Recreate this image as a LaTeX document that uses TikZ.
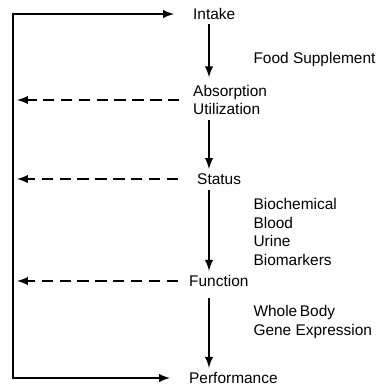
\documentclass[tikz,border=0pt]{standalone}
\usepackage{fontspec}
\setmainfont{Liberation Sans}
\usepackage{tikz}
\usetikzlibrary{
	arrows,
}

\begin{document}
\begin{tikzpicture}[x=0.0264cm, y=-0.0264cm, thick,
	stage/.style={anchor=west, inner sep=2pt, align=left, font=\fontsize{11.6}{12.8}\selectfont},
	note/.style={anchor=west, inner sep=0pt, align=left, font=\fontsize{11.6}{14}\selectfont},
	flow/.style={-latex, line width=1.8pt},
	feedback/.style={-latex, line width=1.8pt, dash pattern=on 8.6pt off 4.8pt}]
\useasboundingbox (0,0) rectangle (380,388);

% left rail and the column of down arrows
\coordinate (rail) at (13,0);
\coordinate (col) at (209,0);

% stages
\node[stage] (intake) at (190,14) {Intake};
\node[stage] (absorb) at (190,100) {Absorption\\Utilization};
\node[stage] (status) at (194,179) {Status};
\node[stage] (function) at (186,281) {Function};
\node[stage] (perf) at (186,378) {Performance};

% side notes
\node[note] (food) at (253,60) {Food Supplement};
\node[note] (markers) at (253,232) {Biochemical\\Blood\\Urine\\Biomarkers};
\node[note, font=\fontsize{11.6}{15}\selectfont] (body) at (253,322) {Whole\,Body\\Gene Expression};

% down arrows
\draw[flow] ([yshift=-1pt]intake.south -| col) -- ([yshift=4pt]absorb.north -| col);
\draw[flow] ([yshift=-2pt]absorb.south -| col) -- ([yshift=1pt]status.north -| col);
\draw[flow] ([yshift=-2pt]status.south -| col) -- ([yshift=1pt]function.north -| col);
\draw[flow] ([yshift=-6pt]function.south -| col) -- ([yshift=1pt]perf.north -| col);

% feedback to the rail
\draw[feedback] ([xshift=-8pt]absorb.west) -- ([xshift=3pt]absorb.west -| rail);
\draw[feedback] ([xshift=-12pt]status.west) -- ([xshift=3pt]status.west -| rail);
\draw[feedback] ([xshift=-6pt]function.west) -- ([xshift=3pt]function.west -| rail);

% loop from performance back to intake
\draw[flow, latex-latex] ([xshift=-12pt]intake.west) -- (intake.west -| rail)
	-- (perf.west -| rail) -- ([xshift=-12pt]perf.west);
\end{tikzpicture}
\end{document}
